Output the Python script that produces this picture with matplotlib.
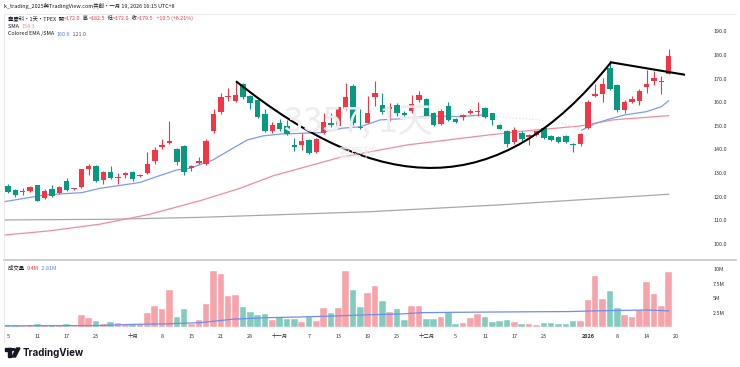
"""Recreate a TradingView daily candle chart of 臺慶科 (3357) with volume pane."""

import matplotlib
matplotlib.use("Agg")
import matplotlib.pyplot as plt
from matplotlib.lines import Line2D
from matplotlib.patches import Rectangle, Polygon, Circle, PathPatch
from matplotlib.path import Path

plt.rcParams["font.family"] = ["Noto Sans CJK TC", "DejaVu Sans"]

W, H = 740, 367

# Daily bars, index 0 = 2025-09-05, index 90 = 2026-01-19
opens = [124.5, 122.8, 122.0, 122.5, 124.8, 119.4, 123.1, 121.4, 126.5, 123.1,
         124.0, 131.9, 133.0, 127.0, 130.4, 127.9, 129.3, 130.4, 128.7, 129.9,
         135.2, 140.9, 142.6, 140.0, 141.4, 132.0, 134.4, 133.8, 147.7, 155.8,
         162.2, 160.6, 167.7, 162.6, 160.9, 155.0, 147.7, 151.3, 149.9, 141.9,
         141.7, 144.0, 138.9, 147.1, 151.0, 150.0, 157.0, 166.9, 149.6, 151.3,
         162.1, 159.0, 157.0, 159.0, 155.6, 156.1, 161.0, 161.5, 155.6, 150.8,
         158.4, 152.8, 153.6, 155.3, 155.8, 157.5, 155.3, 150.5, 147.9, 143.1,
         147.1, 145.4, 146.2, 149.0, 145.8, 145.3, 145.8, 142.4, 142.4, 149.0,
         162.8, 163.3, 174.4, 167.3, 156.6, 160.0, 160.5, 166.4, 169.0, 168.5,
         172.0]
highs = [125.2, 123.2, 123.6, 124.5, 125.0, 123.4, 124.8, 124.4, 127.9, 123.8,
         131.9, 133.8, 133.3, 130.7, 133.0, 129.9, 130.4, 130.8, 129.7, 138.9,
         140.9, 144.3, 151.9, 140.5, 141.8, 133.4, 136.9, 144.5, 157.2, 163.8,
         166.0, 169.1, 168.3, 163.0, 161.2, 157.0, 151.5, 152.8, 152.5, 144.8,
         146.8, 144.5, 145.0, 155.3, 155.3, 158.0, 168.3, 167.7, 157.2, 162.5,
         168.9, 164.0, 159.5, 159.5, 156.3, 163.2, 164.9, 161.8, 156.0, 157.0,
         160.0, 153.2, 155.0, 157.0, 160.0, 158.0, 155.6, 150.8, 148.3, 149.5,
         147.8, 146.5, 148.0, 149.7, 146.3, 145.6, 146.3, 142.6, 146.8, 160.8,
         167.6, 170.1, 176.5, 167.6, 161.0, 162.7, 165.8, 173.8, 173.1, 171.0,
         182.5]
lows = [121.5, 120.0, 120.8, 122.0, 118.0, 119.0, 120.0, 121.0, 122.5, 122.7,
        123.5, 129.0, 126.3, 125.3, 127.5, 125.3, 128.0, 126.8, 128.2, 129.5,
        134.0, 140.0, 142.3, 133.5, 129.0, 131.0, 133.8, 133.5, 147.0, 155.0,
        160.6, 160.0, 161.5, 157.2, 153.5, 147.5, 147.0, 148.0, 146.0, 139.4,
        139.8, 138.0, 138.5, 146.5, 149.5, 149.5, 156.5, 150.5, 148.8, 151.0,
        158.4, 155.0, 152.0, 154.0, 153.8, 155.6, 160.2, 153.8, 150.0, 150.3,
        152.0, 151.0, 152.5, 154.8, 154.2, 153.5, 150.5, 148.5, 141.0, 142.5,
        143.5, 142.0, 145.7, 144.5, 143.5, 142.8, 142.6, 139.0, 141.5, 148.5,
        162.0, 160.0, 165.0, 156.0, 155.5, 159.5, 159.0, 164.0, 167.5, 163.6,
        172.0]
closes = [122.0, 120.8, 122.2, 124.0, 118.3, 122.5, 120.3, 124.0, 122.8, 123.6,
          131.6, 133.0, 126.5, 130.4, 127.9, 128.4, 129.9, 127.6, 129.3, 133.8,
          139.7, 142.0, 143.4, 134.7, 130.5, 133.0, 135.0, 143.4, 155.0, 162.1,
          162.4, 162.9, 162.1, 159.5, 153.9, 147.9, 150.2, 148.5, 146.5, 141.0,
          143.4, 138.6, 144.5, 151.6, 150.2, 157.8, 162.3, 151.1, 149.2, 155.3,
          164.0, 155.8, 157.8, 155.6, 154.5, 159.2, 162.9, 154.2, 150.5, 156.4,
          152.5, 151.6, 154.4, 156.1, 156.0, 153.9, 152.5, 148.8, 142.3, 148.2,
          144.3, 146.0, 147.9, 145.0, 143.9, 143.3, 143.0, 141.9, 146.4, 160.0,
          163.3, 167.6, 165.6, 156.8, 160.0, 161.4, 164.7, 167.6, 170.1, 169.0,
          179.5]
# volume in millions of shares
volumes = [0.34, 0.34, 0.30, 0.34, 0.50, 0.45, 0.40, 0.40, 0.50, 0.30,
           2.06, 1.66, 1.03, 0.57, 0.91, 0.74, 0.46, 0.57, 0.50, 2.40,
           3.66, 3.10, 6.40, 1.70, 3.14, 0.63, 1.20, 4.06, 9.70, 9.14,
           5.37, 5.54, 3.43, 2.63, 2.11, 2.34, 1.26, 1.71, 1.37, 1.37,
           0.91, 1.71, 1.03, 3.26, 2.40, 3.30, 9.70, 6.40, 3.43, 5.90,
           7.10, 4.50, 2.70, 3.10, 1.20, 3.70, 3.70, 1.50, 1.37, 1.80,
           2.60, 0.57, 0.74, 1.54, 2.30, 1.80, 0.86, 1.10, 1.20, 0.86,
           0.50, 0.63, 0.40, 0.69, 0.69, 0.63, 0.63, 1.00, 1.03, 4.74,
           8.74, 4.86, 6.20, 3.26, 2.10, 1.80, 3.00, 7.70, 5.70, 3.66,
           9.40]

# moving averages read at sample bars (bar index, value)
ema_idx = [-0.6, 5.0, 10.1, 12.5, 18.0, 20.0, 23.0, 24.8, 27.9, 30.2, 32.6,
           34.7, 37.1, 39.8, 42.5, 45.6, 48.0, 50.7, 54.8, 57.1, 61.6, 64.7]
ema_val = [117.8, 120.7, 121.7, 123.5, 126.0, 128.2, 131.3, 132.0, 135.5, 139.7,
           144.0, 145.7, 146.5, 146.8, 147.1, 149.0, 149.6, 152.5, 153.2, 154.2,
           153.9, 154.6]
ema_faint_idx = [64.7, 68.0, 72.0, 75.5, 78.2]
ema_faint_val = [154.6, 153.5, 152.6, 151.0, 148.2]
ema2_idx = [78.2, 80.0, 82.0, 84.0, 87.0, 89.0, 90.0]
ema2_val = [148.2, 151.0, 152.9, 154.6, 156.0, 158.1, 160.6]

sma_idx = [-0.6, 5.7, 12.5, 19.3, 26.2, 31.6, 36.1, 45.2, 54.4, 65.7, 71.1,
           77.9, 82.4, 87.0, 90.0]
sma_val = [103.7, 105.5, 108.3, 112.5, 118.3, 123.5, 128.8, 136.6, 141.9, 146.2,
           148.0, 149.9, 152.5, 153.6, 154.3]

sma200_idx = [-0.6, 14.0, 26.0, 49.3, 67.0, 90.0]
sma200_val = [110.1, 110.4, 111.2, 113.6, 116.5, 121.0]

volma_idx = [-0.4, 12.5, 17.0, 21.7, 26.2, 30.7, 35.3, 39.8, 44.3, 49.3, 53.8,
             56.1, 60.6, 67.4, 76.6, 79.3, 83.4, 87.1, 90.0]
volma_val = [0.25, 0.30, 0.50, 0.60, 0.80, 1.40, 1.65, 1.77, 1.94, 2.15, 2.30,
             2.50, 2.57, 2.63, 2.70, 2.80, 2.90, 2.97, 2.81]

# hand drawn cup (cubic curve: start, two control points, end) and handle
cup_pts = [(31.06, 168.9), (50.68, 120.3), (66.69, 116.9), (82.15, 176.9)]
handle_idx = [82.15, 92.1]
handle_val = [176.9, 171.7]

tick_idx = [0, 4, 8, 12, 17, 21, 25, 29, 33, 37, 41, 45, 49, 53, 57, 61, 65,
            69, 73, 79, 83, 87, 91]
tick_labels = ["5", "11", "17", "23", "十月", "8", "15", "21", "28", "十一月",
               "7", "13", "19", "25", "十二月", "5", "11", "17", "23", "2026",
               "8", "14", "20"]
price_ticks = [100, 110, 120, 130, 140, 150, 160, 170, 180, 190]
vol_ticks = [2.5, 5, 7.5, 10]
vol_tick_labels = ["2.5M", "5M", "7.5M", "10M"]

UP = "#F23645"
DOWN = "#089981"
UP_VOL = "#F7A3AA"
DOWN_VOL = "#82CCBF"
TXT = "#131722"
FS = 3.9


def fx(x):
    return x / W


def fy(y):
    return 1 - y / H


fig = plt.figure(figsize=(W / 100, H / 100), dpi=100)
fig.patch.set_facecolor("white")

ax = fig.add_axes([fx(4), fy(260), (700 - 4) / W, (260 - 15) / H])
axv = fig.add_axes([fx(4), fy(328), (700 - 4) / W, (328 - 261) / H])
xlim = (-0.545, 94.28)

# watermark
fig.text(fx(358), fy(123), "3357, 1天", fontsize=25, color="#EDEDED",
         ha="center", va="center", zorder=0)
fig.text(fx(357), fy(153), "臺慶科", fontsize=9, color="#EDEDED",
         ha="center", va="center", zorder=0)

# candles
for i in range(len(opens)):
    o, h, l, c = opens[i], highs[i], lows[i], closes[i]
    col = UP if c >= o else DOWN
    ax.vlines(i, l, h, color=col, lw=0.8, zorder=3)
    body = max(abs(c - o), 0.35)
    ax.add_patch(Rectangle((i - 0.37, min(o, c)), 0.74, body,
                           facecolor=col, edgecolor="none", zorder=4))

ax.plot(sma200_idx, sma200_val, color="#A8A8A8", lw=0.9, zorder=2)
ax.plot(sma_idx, sma_val, color="#F28C9A", lw=0.9, zorder=2)
ax.plot(ema_idx, ema_val, color="#7B9CF0", lw=0.9, zorder=2)
ax.plot(ema_faint_idx, ema_faint_val, color="#E3E3E3", lw=0.9, ls=":",
        zorder=2)
ax.plot(ema2_idx, ema2_val, color="#7B9CF0", lw=0.9, zorder=2)

cup = Path(cup_pts, [Path.MOVETO, Path.CURVE4, Path.CURVE4, Path.CURVE4])
ax.add_patch(PathPatch(cup, facecolor="none", edgecolor="black", lw=1.5,
                       zorder=5))
ax.plot(handle_idx, handle_val, color="black", lw=1.5, zorder=5)

ax.set_xlim(*xlim)
ax.set_ylim(93.14, 196.95)
ax.yaxis.tick_right()
ax.set_yticks(price_ticks, [f"{p:.1f}" for p in price_ticks])
ax.tick_params(axis="y", length=0, pad=9.5, labelsize=FS, labelcolor="#333333")
ax.set_xticks([])
for s in ax.spines.values():
    s.set_visible(False)
ax.patch.set_alpha(0)

# volume pane
vcols = [UP_VOL if closes[i] >= opens[i] else DOWN_VOL
         for i in range(len(volumes))]
axv.bar(range(len(volumes)), volumes, width=0.9, color=vcols,
        edgecolor="white", linewidth=0.3, zorder=2)
axv.plot(volma_idx, volma_val, color="#6C8EEF", lw=0.9, zorder=3)
axv.set_xlim(*xlim)
axv.set_ylim(-0.12, 11.37)
axv.yaxis.tick_right()
axv.set_yticks(vol_ticks, vol_tick_labels)
axv.tick_params(axis="y", length=0, pad=9.5, labelsize=FS, labelcolor="#333333")
axv.set_xticks(tick_idx, tick_labels)
axv.tick_params(axis="x", length=0, pad=4, labelsize=FS, labelcolor="#333333")
for lab in axv.get_xticklabels():
    if lab.get_text() == "2026":
        lab.set_fontweight("bold")
for s in axv.spines.values():
    s.set_visible(False)
axv.patch.set_alpha(0)

# pane separator and frame
fig.add_artist(Line2D([fx(4), fx(736)], [fy(260), fy(260)], color="#C4C4C4",
                      lw=1.2))
fig.add_artist(Line2D([fx(4), fx(4)], [fy(14), fy(342)], color="#E6E6E6",
                      lw=0.6))
fig.add_artist(Line2D([fx(4), fx(736)], [fy(14), fy(14)], color="#E6E6E6",
                      lw=0.6))

# legend texts
renderer = fig.canvas.get_renderer()


def seg_text(x, y, parts, size=FS):
    """Draw coloured text segments one after another."""
    for text, col in parts:
        t = fig.text(fx(x), fy(y), text, color=col, fontsize=size,
                     va="center", ha="left")
        x += t.get_window_extent(renderer).width


seg_text(4, 6, [("k_trading_2025與TradingView.com共創・一月 19, 2026 16:15 UTC+8",
                 TXT)])
seg_text(8, 18, [("臺慶科・1天・TPEX  開", TXT), ("=172.0", UP),
                 ("  高", TXT), ("=182.5", UP), ("  低", TXT), ("=172.0", UP),
                 ("  收", TXT), ("=179.5", UP), ("  +10.5 (+6.21%)", UP)])
seg_text(8, 26, [("SMA  ", TXT), ("154.3", "#F28C9A")])
seg_text(8, 34, [("Colored EMA /SMA  ", TXT), ("160.6", "#5B7FEA"),
                 ("  121.0", "#555555")])
seg_text(8, 268, [("成交量  ", TXT), ("9.4M", UP), ("  2.81M", "#5B7FEA")])

# TradingView logo
fig.add_artist(Rectangle((fx(5), fy(351)), 6 / W, 3 / H, color=TXT,
                         transform=fig.transFigure))
fig.add_artist(Rectangle((fx(8), fy(357)), 3 / W, 9 / H, color=TXT,
                         transform=fig.transFigure))
fig.add_artist(Circle((fx(13.5), fy(349.5)), 1.6 / W, color=TXT,
                      transform=fig.transFigure))
fig.add_artist(Polygon([(fx(12), fy(357)), (fx(15.5), fy(357)),
                        (fx(20), fy(348)), (fx(16.5), fy(348))],
                       color=TXT, transform=fig.transFigure))
fig.text(fx(23), fy(353), "TradingView", fontsize=7, fontweight="bold",
         color=TXT, va="center", ha="left", family=["Inter", "DejaVu Sans"])

fig.savefig("out.png", dpi=100)
